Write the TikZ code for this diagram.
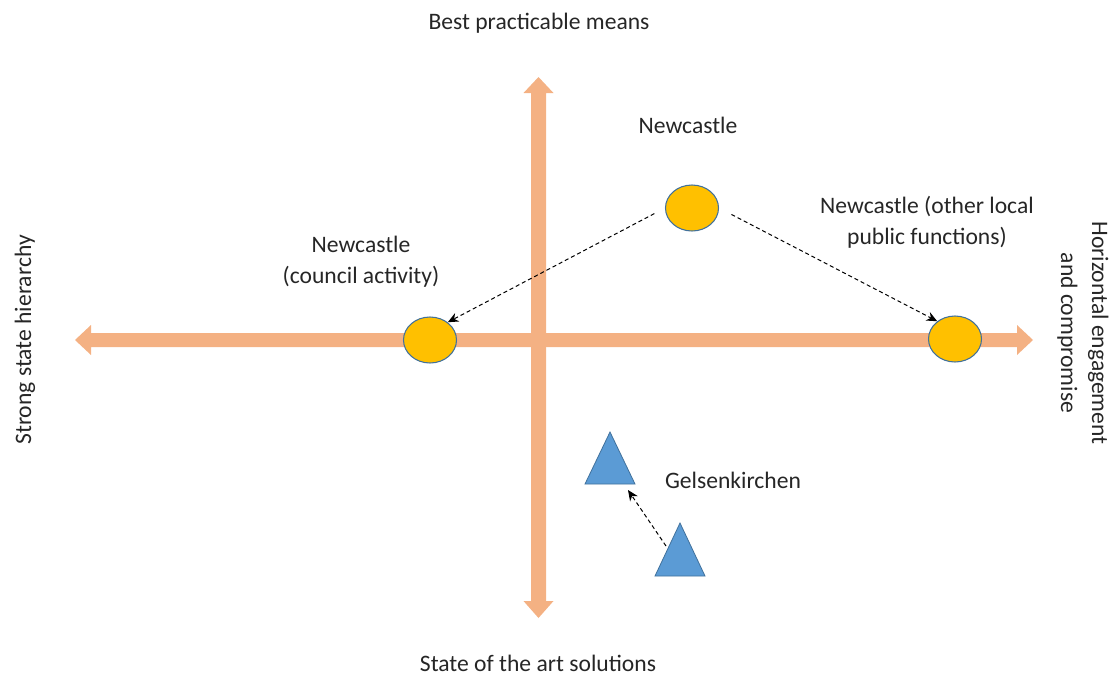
\documentclass[tikz,border=0pt]{standalone}
\usepackage{fontspec}
\setmainfont{Carlito}
\usetikzlibrary{shapes.geometric,arrows.meta,calc}

\definecolor{axiscol}{HTML}{F4B183}
\definecolor{ballfill}{HTML}{FFC000}
\definecolor{shapeline}{HTML}{41719C}
\definecolor{trifill}{HTML}{5B9BD5}

\tikzset{
  lbl/.style={font=\fontsize{17.7}{23.3}\selectfont, align=center, inner sep=0pt, text=black!85},
  ball/.style={ellipse, fill=ballfill, draw=shapeline, line width=0.8pt,
               minimum width=39.75pt, minimum height=34.5pt, inner sep=0pt},
  tri/.style={fill=trifill, draw=shapeline, line width=0.6pt, line join=miter},
  dasharrow/.style={draw=black, line width=0.75pt, dash pattern=on 3pt off 2.2pt,
                    -{Stealth[length=8pt,width=7pt]}},
}

\begin{document}
\begin{tikzpicture}[x=0.75pt, y=-0.75pt]
  \useasboundingbox (0,0) rectangle (1115,679);

  % horizontal double arrow
  \fill[axiscol] (75,340) -- (91,325) -- (91,333) -- (1017,333) -- (1017,325)
                 -- (1033,340) -- (1017,355) -- (1017,347) -- (91,347) -- (91,355) -- cycle;
  % vertical double arrow
  \fill[axiscol] (538.5,77) -- (553.5,93) -- (546,93) -- (546,601) -- (553.5,601)
                 -- (538.5,618) -- (523.5,601) -- (531,601) -- (531,93) -- (523.5,93) -- cycle;

  % axis labels
  \node[lbl] (top)    at (539,23)  {Best practicable means};
  \node[lbl] (bottom) at (538,663) {State of the art solutions};
  \node[lbl, rotate=90]  (left)  at (25,340)   {Strong state hierarchy};
  \node[lbl, rotate=-90] (right) at (1083,333) {Horizontal engagement\\and compromise};

  % Newcastle positions
  \node[ball] (nc)  at (692,208) {};
  \node[ball] (ncl) at (430,340) {};
  \node[ball] (ncr) at (955,339) {};

  \node[lbl] (ncT)  at (688,125) {Newcastle};
  \node[lbl] (nclT) at (361,262) {Newcastle\\(council activity)};
  \node[lbl] (ncrT) at (927,222) {Newcastle (other local\\public functions)};

  \draw[dasharrow, shorten <=9pt] (nc.west) -- (ncl.45);
  \draw[dasharrow, shorten <=10.5pt] (nc.east) -- (ncr.135);

  % Gelsenkirchen positions
  \draw[tri] (610,432) coordinate (gaTop) -- (635,484) coordinate (gaR)
             -- (585,484) coordinate (gaL) -- cycle;
  \draw[tri] (680,523) coordinate (gbTop) -- (705,576) coordinate (gbR)
             -- (655,576) coordinate (gbL) -- cycle;
  \coordinate (gaEnd)   at (628,490);
  \coordinate (gbStart) at (666,546);
  \draw[dasharrow] (gbStart) -- (gaEnd);

  \node[lbl] (gT) at (733,480) {Gelsenkirchen};
\end{tikzpicture}
\end{document}
